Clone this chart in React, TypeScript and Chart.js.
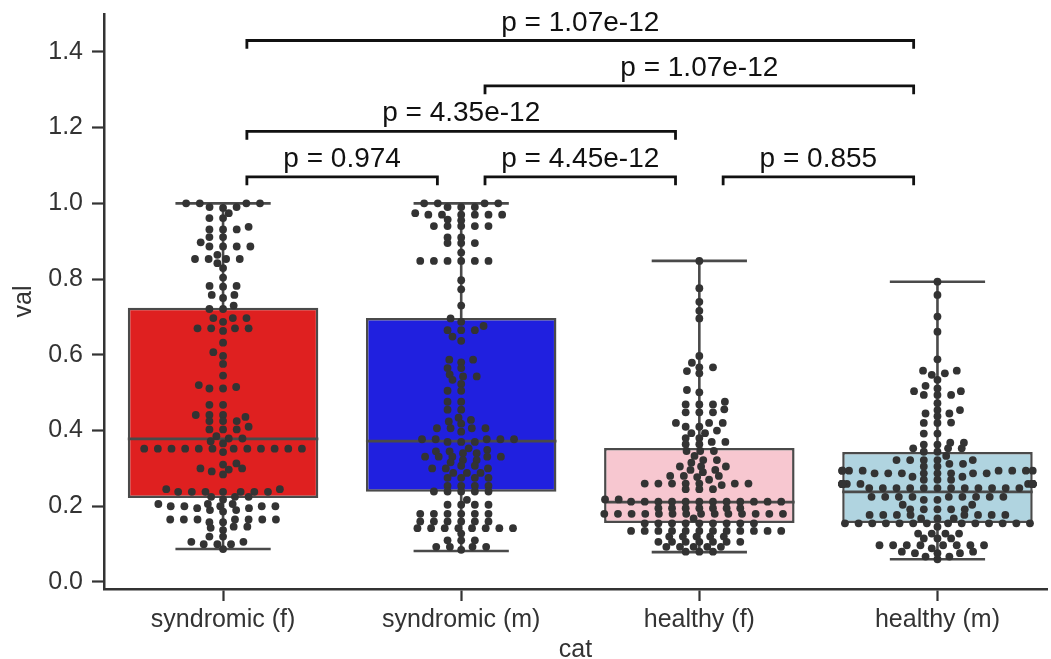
import React, { useEffect, useRef } from 'react';
import { Chart, registerables } from 'chart.js';

Chart.register(...registerables);

const categories = ['syndromic (f)', 'syndromic (m)', 'healthy (f)', 'healthy (m)'];
const boxColors = ['#df2020', '#2020df', '#f7c7d0', '#b0d4e0'];
const q1 = [0.222, 0.238, 0.156, 0.156];
const median = [0.378, 0.372, 0.211, 0.238];
const q3 = [0.724, 0.697, 0.354, 0.343];
const whiskerLow = [0.087, 0.082, 0.079, 0.06];
const whiskerHigh = [1.0, 1.0, 0.848, 0.793];
const yTicks = [0, 0.2, 0.4, 0.6, 0.8, 1.0, 1.2, 1.4];

const syndromicF = [
  1.0, 1.0, 1.0, 1.0, 0.99, 0.99, 0.988,
  0.974, 0.961, 0.961, 0.938, 0.931, 0.931, 0.931, 0.911, 0.911, 0.897,
  0.886, 0.886, 0.886, 0.886, 0.864, 0.853, 0.853, 0.853, 0.853, 0.842, 0.829, 0.804,
  0.782, 0.782, 0.78, 0.758, 0.758, 0.75, 0.73, 0.721, 0.721,
  0.697, 0.697, 0.697, 0.687, 0.67, 0.67, 0.67, 0.67, 0.663, 0.632, 0.607, 0.597, 0.576, 0.545,
  0.52, 0.515, 0.511, 0.511, 0.468, 0.468, 0.441, 0.441, 0.441, 0.436, 0.425, 0.425, 0.425, 0.41,
  0.403, 0.403, 0.403, 0.385, 0.379, 0.379, 0.372, 0.366,
  0.352, 0.352, 0.352, 0.352, 0.352, 0.352, 0.352, 0.352, 0.352, 0.352, 0.352, 0.352, 0.343,
  0.313, 0.31, 0.3, 0.3, 0.297, 0.292, 0.284, 0.245, 0.245,
  0.238, 0.238, 0.238, 0.238, 0.238, 0.238, 0.238,
  0.225, 0.225, 0.225, 0.218, 0.206, 0.206, 0.206, 0.2, 0.2, 0.2, 0.2, 0.2, 0.195, 0.195, 0.19, 0.19, 0.186,
  0.165, 0.165, 0.165, 0.165, 0.165, 0.165, 0.165, 0.158, 0.158, 0.146, 0.146, 0.143, 0.137, 0.12, 0.12,
  0.106, 0.106, 0.1, 0.1, 0.1, 0.087,
];

const syndromicM = [
  1.0, 1.0, 1.0, 1.0, 0.99, 0.99, 0.99, 0.974,
  0.97, 0.97, 0.97, 0.97, 0.97, 0.97, 0.957, 0.955,
  0.94, 0.94, 0.94, 0.94, 0.94, 0.91, 0.91, 0.895, 0.895, 0.895, 0.87,
  0.848, 0.848, 0.848, 0.848, 0.848, 0.848, 0.797, 0.773, 0.73,
  0.696, 0.687, 0.676, 0.665, 0.665, 0.665, 0.648, 0.637,
  0.587, 0.587, 0.58, 0.565, 0.565, 0.548, 0.543, 0.543, 0.534, 0.523, 0.505, 0.505,
  0.476, 0.476, 0.455, 0.455, 0.434, 0.428, 0.424, 0.418, 0.406, 0.406, 0.406, 0.406, 0.397,
  0.377, 0.377, 0.377, 0.377, 0.377, 0.37, 0.37, 0.37, 0.353, 0.349, 0.345, 0.345, 0.34, 0.34,
  0.331, 0.331, 0.331, 0.331, 0.331, 0.322, 0.322, 0.316, 0.307, 0.307, 0.3, 0.3, 0.3,
  0.288, 0.288, 0.288, 0.275, 0.275, 0.275, 0.275, 0.254, 0.254, 0.254, 0.254,
  0.239, 0.239, 0.239, 0.239, 0.239, 0.217, 0.204, 0.204, 0.204, 0.204,
  0.18, 0.18, 0.18, 0.18, 0.18, 0.18, 0.16, 0.16, 0.16, 0.16, 0.16, 0.16,
  0.142, 0.142, 0.142, 0.142, 0.142, 0.142, 0.142, 0.142, 0.128, 0.11, 0.11, 0.11,
  0.093, 0.093, 0.093, 0.093, 0.085,
];

const healthyF = [
  0.848, 0.776, 0.74, 0.716, 0.696, 0.597, 0.579, 0.567, 0.567, 0.557, 0.551, 0.507, 0.501, 0.476,
  0.469, 0.469, 0.469, 0.456, 0.448, 0.448, 0.448, 0.42, 0.42, 0.42, 0.41, 0.41, 0.4, 0.393, 0.393,
  0.38, 0.38, 0.37, 0.37, 0.364, 0.364, 0.346, 0.346, 0.346, 0.333, 0.322, 0.322, 0.315,
  0.305, 0.305, 0.305, 0.296, 0.296, 0.29, 0.28, 0.28, 0.28, 0.277, 0.27,
  0.26, 0.26, 0.26, 0.26, 0.26, 0.26, 0.26, 0.256, 0.245, 0.245, 0.245, 0.218, 0.218,
  0.212, 0.212, 0.212, 0.212, 0.212, 0.212, 0.212, 0.212, 0.212, 0.212, 0.212, 0.212,
  0.195, 0.195, 0.195, 0.195, 0.195, 0.195, 0.195,
  0.18, 0.18, 0.18, 0.18, 0.18, 0.18, 0.18, 0.18, 0.18, 0.18, 0.18, 0.18, 0.18, 0.18,
  0.168,
  0.155, 0.155, 0.155, 0.155, 0.155, 0.155, 0.155, 0.155, 0.155,
  0.135, 0.135, 0.135, 0.135, 0.135, 0.135, 0.135, 0.135, 0.135, 0.135, 0.135, 0.135,
  0.12, 0.12, 0.12, 0.12, 0.12,
  0.106, 0.106, 0.106, 0.106, 0.106, 0.106, 0.106,
  0.093, 0.093, 0.093, 0.093, 0.093,
  0.08, 0.08, 0.08,
];

const healthyM = [
  0.793, 0.758, 0.701, 0.661, 0.588, 0.558, 0.558, 0.551, 0.547, 0.534, 0.518, 0.511, 0.504, 0.504,
  0.494, 0.494, 0.494, 0.472, 0.454, 0.454, 0.445, 0.445, 0.438, 0.421, 0.42, 0.42, 0.392, 0.392,
  0.368, 0.368, 0.363, 0.363, 0.353, 0.353, 0.353, 0.344, 0.344, 0.333,
  0.322, 0.322, 0.322, 0.322, 0.322, 0.312, 0.312, 0.305, 0.305,
  0.294, 0.294, 0.294, 0.294, 0.294, 0.294, 0.294, 0.294,
  0.287, 0.287, 0.287, 0.287, 0.287, 0.287, 0.287, 0.287,
  0.278, 0.278, 0.27, 0.27, 0.27,
  0.259, 0.259, 0.259, 0.259, 0.259, 0.259, 0.259, 0.259, 0.259, 0.259, 0.259, 0.259, 0.259,
  0.248, 0.248, 0.248, 0.248, 0.248, 0.248, 0.248, 0.248, 0.248, 0.248, 0.248, 0.248,
  0.225, 0.225, 0.225, 0.225, 0.225, 0.225, 0.225, 0.225, 0.225,
  0.217, 0.217, 0.204, 0.204, 0.192, 0.192, 0.192, 0.192, 0.192,
  0.177, 0.177, 0.177, 0.177, 0.177, 0.177, 0.177, 0.177, 0.168, 0.168, 0.168,
  0.155, 0.155, 0.155, 0.155, 0.155, 0.155, 0.155, 0.155, 0.155, 0.155, 0.155, 0.155, 0.155, 0.155,
  0.146, 0.128, 0.128, 0.128, 0.128, 0.115, 0.115, 0.115,
  0.097, 0.097, 0.097, 0.097, 0.097, 0.097, 0.097, 0.097,
  0.089, 0.08, 0.08, 0.076, 0.076, 0.076, 0.067, 0.067, 0.06,
];

const groups = [syndromicF, syndromicM, healthyF, healthyM];

const pairs = [[0, 1], [1, 2], [2, 3], [0, 2], [1, 3], [0, 3]];
const pLabels = ['p = 0.974', 'p = 4.45e-12', 'p = 0.855', 'p = 4.35e-12', 'p = 1.07e-12', 'p = 1.07e-12'];
const pLevels = [1.07, 1.07, 1.07, 1.19, 1.31, 1.43];

const FONT = '"Liberation Sans", Arial, sans-serif';
const BOX_HALF = 0.4;
const CAP_HALF = 0.2;
const BRACKET_INSET = 0.1;
const BRACKET_TIP = 0.022;
const SWARM_D = 13;
const SWARM_K = 2.4;

function swarmOffsets(py: number[], limit: number): number[] {
  const idx = py.map((_, i) => i);
  idx.sort((a, b) => py[b] - py[a] || a - b);
  const placed: { x: number; y: number }[] = [];
  const out = new Array(py.length).fill(0);
  const d = SWARM_D;
  for (const i of idx) {
    const y = -py[i] * SWARM_K;
    const neighbors: { x: number; y: number }[] = [];
    for (let j = placed.length - 1; j >= 0; j--) {
      if (y - placed[j].y < d) neighbors.push(placed[j]);
      else break;
    }
    const cands: number[] = [0];
    let leftFirst = true;
    for (const n of neighbors) {
      const dy = y - n.y;
      const dx = Math.sqrt(Math.max(d * d - dy * dy, 0)) * 1.05;
      if (leftFirst) cands.push(n.x - dx, n.x + dx);
      else cands.push(n.x + dx, n.x - dx);
      leftFirst = !leftFirst;
    }
    const sorted = cands
      .map((c, ci) => ({ c, ci }))
      .sort((a, b) => Math.abs(a.c) - Math.abs(b.c) || a.ci - b.ci);
    let chosen = sorted[0].c;
    for (const { c } of sorted) {
      let ok = true;
      for (const n of neighbors) {
        const ddx = n.x - c;
        const ddy = n.y - y;
        if (ddx * ddx + ddy * ddy < d * d - 1e-6) {
          ok = false;
          break;
        }
      }
      if (ok) {
        chosen = c;
        break;
      }
    }
    placed.push({ x: chosen, y });
    out[i] = Math.max(-limit, Math.min(limit, chosen));
  }
  return out;
}

const annotationPlugin = {
  id: 'pAnnotations',
  afterDatasetsDraw(chart: any) {
    const { ctx, scales } = chart;
    const x = scales.x;
    const y = scales.y;
    ctx.save();
    ctx.font = `28px ${FONT}`;
    ctx.fillStyle = '#111';
    ctx.textAlign = 'center';
    ctx.textBaseline = 'alphabetic';
    pairs.forEach(([a, b], i) => {
      ctx.fillText(pLabels[i], x.getPixelForValue((a + b) / 2), y.getPixelForValue(pLevels[i]) - 10);
    });
    ctx.restore();
  },
};

export default function App() {
  const canvasRef = useRef<HTMLCanvasElement | null>(null);

  useEffect(() => {
    const canvas = canvasRef.current;
    if (!canvas) return;

    const whiskerData: any[] = [];
    categories.forEach((_, i) => {
      whiskerData.push(
        { x: i - CAP_HALF, y: whiskerHigh[i] }, { x: i + CAP_HALF, y: whiskerHigh[i] }, { x: i, y: null },
        { x: i, y: whiskerHigh[i] }, { x: i, y: q3[i] }, { x: i, y: null },
        { x: i, y: q1[i] }, { x: i, y: whiskerLow[i] }, { x: i, y: null },
        { x: i - CAP_HALF, y: whiskerLow[i] }, { x: i + CAP_HALF, y: whiskerLow[i] }, { x: i, y: null },
        { x: i - BOX_HALF, y: median[i] }, { x: i + BOX_HALF, y: median[i] }, { x: i, y: null },
      );
    });

    const bracketData: any[] = [];
    pairs.forEach(([a, b], i) => {
      const lv = pLevels[i];
      bracketData.push(
        { x: a + BRACKET_INSET, y: lv - BRACKET_TIP },
        { x: a + BRACKET_INSET, y: lv },
        { x: b - BRACKET_INSET, y: lv },
        { x: b - BRACKET_INSET, y: lv - BRACKET_TIP },
        { x: a, y: null },
      );
    });

    const pointSets = groups.map((vals, gi) => ({
      type: 'scatter' as const,
      label: categories[gi] + ' points',
      data: vals.map((v) => ({ x: gi, y: v })),
      pointRadius: 3.9,
      pointBackgroundColor: '#333333',
      pointBorderWidth: 0,
      showLine: false,
      order: 1,
    }));

    const chart = new Chart(canvas, {
      type: 'bar',
      data: {
        datasets: [
          {
            type: 'bar',
            label: 'boxes',
            data: categories.map((_, i) => ({ x: i, y: [q1[i], q3[i]] })) as any,
            backgroundColor: boxColors,
            borderColor: '#4a4a4a',
            borderWidth: 2.5,
            borderSkipped: false,
            barPercentage: 0.8,
            categoryPercentage: 1,
            order: 3,
          } as any,
          {
            type: 'line',
            label: 'whiskers',
            data: whiskerData,
            borderColor: '#4a4a4a',
            borderWidth: 2.6,
            pointRadius: 0,
            spanGaps: false,
            fill: false,
            tension: 0,
            order: 2,
          } as any,
          {
            type: 'line',
            label: 'brackets',
            data: bracketData,
            borderColor: '#111111',
            borderWidth: 2.8,
            pointRadius: 0,
            spanGaps: false,
            fill: false,
            tension: 0,
            order: 2,
          } as any,
          ...(pointSets as any[]),
        ],
      },
      options: {
        responsive: false,
        animation: false,
        events: [],
        layout: { padding: { top: 14, left: 0, right: 0, bottom: 0 } },
        plugins: {
          legend: { display: false },
          tooltip: { enabled: false },
        },
        scales: {
          x: {
            type: 'linear',
            min: -0.5,
            max: 3.46,
            offset: false,
            afterBuildTicks: (scale: any) => {
              scale.ticks = categories.map((_, i) => ({ value: i }));
            },
            afterFit: (scale: any) => {
              scale.height = 70;
              scale.paddingLeft = 0;
              scale.paddingRight = 0;
            },
            ticks: {
              callback: (v: any) => categories[Math.round(Number(v))] ?? '',
              font: { family: FONT, size: 25 },
              color: '#333333',
              padding: 4,
              maxRotation: 0,
              autoSkip: false,
            },
            grid: {
              display: true,
              offset: false,
              drawOnChartArea: false,
              drawTicks: true,
              tickLength: 12,
              tickWidth: 2.2,
              tickColor: '#333333',
            },
            border: { display: true, color: '#333333', width: 2.5 },
            title: {
              display: true,
              text: 'cat',
              font: { family: FONT, size: 25, lineHeight: 0.75 },
              color: '#333333',
              padding: { top: 0, bottom: 0 },
            },
          },
          y: {
            type: 'linear',
            min: -0.0185,
            max: 1.5,
            afterBuildTicks: (scale: any) => {
              scale.ticks = yTicks.map((v) => ({ value: v }));
            },
            afterFit: (scale: any) => {
              scale.width = 104;
              scale.paddingTop = 0;
              scale.paddingBottom = 0;
            },
            ticks: {
              callback: (v: any) => Number(v).toFixed(1),
              font: { family: FONT, size: 25 },
              color: '#333333',
              padding: 9,
            },
            grid: {
              display: true,
              drawOnChartArea: false,
              drawTicks: true,
              tickLength: 12,
              tickWidth: 2.2,
              tickColor: '#333333',
            },
            border: { display: true, color: '#333333', width: 2.5 },
            title: {
              display: true,
              text: 'val',
              font: { family: FONT, size: 25, lineHeight: 1 },
              color: '#333333',
              padding: { top: 12, bottom: 0 },
            },
          },
        },
      },
      plugins: [annotationPlugin],
    } as any);

    const xs: any = chart.scales.x;
    const ys: any = chart.scales.y;
    const ppu = Math.abs(xs.getPixelForValue(1) - xs.getPixelForValue(0));
    groups.forEach((vals, gi) => {
      const py = vals.map((v) => ys.getPixelForValue(v));
      const off = swarmOffsets(py, 0.4 * ppu);
      (chart.data.datasets[3 + gi] as any).data = vals.map((v, i) => ({ x: gi + off[i] / ppu, y: v }));
    });
    chart.update();

    return () => {
      chart.destroy();
    };
  }, []);

  return (
    <div style={{ position: 'absolute', left: 0, top: 0, width: 1051, height: 659, background: '#ffffff' }}>
      <canvas ref={canvasRef} width={1051} height={659} style={{ display: 'block' }} />
    </div>
  );
}
